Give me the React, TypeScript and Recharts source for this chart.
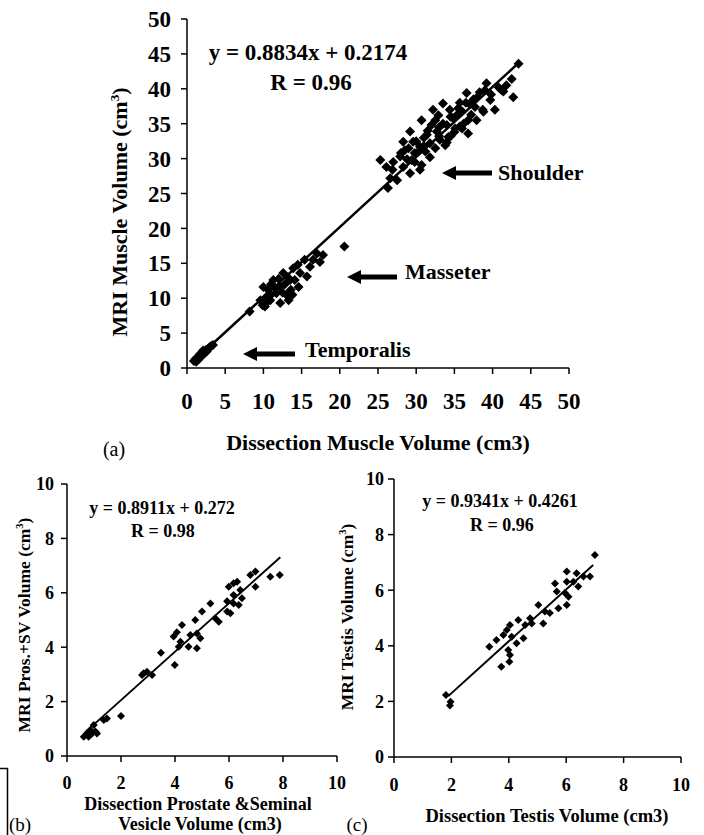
import React from "react";
import { ScatterChart, Scatter, XAxis, YAxis } from "recharts";

const SERIF = '"Liberation Serif", "Times New Roman", serif';

// (a) dissection vs MRI muscle volume (cm3), three muscle groups
const temporalis = [
  [0.9, 1.0], [1.1, 1.3], [1.2, 0.9], [1.4, 1.5], [1.5, 1.2], [1.6, 1.7], [1.7, 2.0], [1.8, 1.6],
  [1.9, 2.0], [2.0, 1.8], [2.1, 2.5], [2.2, 2.3], [2.3, 2.1], [2.5, 2.6], [2.6, 2.4], [2.8, 2.8],
  [3.0, 3.0], [3.2, 3.2], [3.4, 3.3],
];
const masseter = [
  [8.2, 8.1], [9.6, 9.7], [9.9, 9.0], [10.2, 8.8], [10.0, 11.6], [10.4, 10.2], [10.5, 9.5], [10.6, 11.2],
  [10.9, 9.7], [11.0, 10.5], [11.0, 12.0], [11.3, 12.6], [11.5, 11.5], [11.7, 10.7], [12.0, 12.8], [12.2, 11.6],
  [12.2, 9.3], [12.5, 10.8], [12.6, 13.6], [12.8, 12.0], [13.0, 10.5], [13.2, 13.0], [13.3, 9.7], [13.5, 12.6],
  [13.6, 11.2], [13.8, 10.5], [13.9, 14.3], [14.1, 12.6], [14.5, 14.8], [14.6, 11.6], [14.8, 13.6], [15.4, 15.5],
  [15.7, 13.1], [16.1, 14.5], [16.5, 15.5], [17.0, 16.4], [17.4, 15.2], [17.8, 16.2], [20.6, 17.4],
];
const shoulder = [
  [25.3, 29.8], [26.1, 28.8], [26.3, 25.8], [26.6, 27.2], [26.9, 28.4], [27.0, 29.5], [27.5, 26.9], [27.9, 30.3],
  [28.0, 30.8], [28.3, 32.4], [28.3, 28.8], [28.5, 31.2], [28.8, 29.9], [29.0, 31.5], [29.2, 33.9], [29.2, 27.9],
  [29.4, 29.8], [29.6, 32.4], [29.8, 30.8], [29.8, 29.5], [30.0, 32.5], [30.3, 31.0], [30.5, 31.7], [30.5, 28.4],
  [30.7, 35.5], [30.7, 29.1], [31.0, 33.0], [31.0, 31.8], [31.2, 31.0], [31.4, 33.4], [31.5, 34.0], [31.8, 32.2],
  [31.8, 30.2], [32.0, 34.8], [32.2, 37.0], [32.5, 31.5], [32.5, 35.5], [32.7, 33.9], [32.9, 36.2], [33.0, 34.5],
  [33.0, 33.2], [33.1, 32.7], [33.5, 37.9], [33.5, 35.0], [33.8, 31.9], [34.0, 34.8], [34.0, 32.3], [34.2, 33.1],
  [34.4, 37.0], [34.5, 33.2], [34.5, 36.0], [34.8, 35.8], [35.0, 33.8], [35.1, 34.3], [35.3, 36.2], [35.5, 37.2],
  [35.7, 38.0], [35.7, 34.6], [36.0, 36.8], [36.0, 34.3], [36.2, 35.0], [36.5, 38.0], [36.6, 39.4], [36.8, 35.5],
  [36.8, 33.6], [37.0, 37.8], [37.2, 36.3], [37.5, 38.5], [37.7, 37.4], [37.9, 35.5], [38.0, 38.8], [38.3, 39.5],
  [38.7, 37.0], [38.8, 36.7], [39.0, 39.8], [39.2, 40.8], [39.7, 38.4], [39.8, 39.2], [40.3, 37.0], [40.8, 40.2],
  [41.2, 39.8], [41.4, 39.6], [41.8, 40.5], [42.5, 41.4], [42.7, 38.8], [43.4, 43.6],
];
const muscleFit = [[0.9, 1.0], [43.3, 43.6]];
const muscleTicks = [0, 5, 10, 15, 20, 25, 30, 35, 40, 45, 50];

// (b) prostate + seminal vesicle
const prostate = [
  [0.62, 0.71], [0.74, 0.83], [0.8, 0.71], [0.86, 0.96], [0.93, 0.83], [0.99, 1.14], [1.05, 0.9], [1.11, 0.83],
  [1.36, 1.32], [1.48, 1.38], [2.0, 1.47], [2.78, 2.98], [2.84, 3.04], [2.96, 3.1], [3.15, 2.98], [3.48, 3.8],
  [3.95, 4.39], [3.99, 3.35], [4.07, 4.55], [4.14, 4.02], [4.2, 4.2], [4.26, 4.82], [4.5, 4.02], [4.57, 4.45],
  [4.75, 5.0], [4.81, 3.96], [4.81, 4.5], [4.94, 4.33], [5.0, 5.31], [5.31, 5.61], [5.49, 5.06], [5.62, 4.94],
  [5.93, 5.69], [5.93, 5.31], [5.99, 6.22], [6.05, 5.25], [6.17, 5.92], [6.17, 5.61], [6.17, 6.35], [6.3, 6.41],
  [6.36, 5.55], [6.42, 6.1], [6.48, 5.8], [6.79, 6.65], [6.98, 6.78], [6.98, 6.22], [7.53, 6.59], [7.88, 6.65],
];
const prostateFit = [[0.65, 0.85], [7.9, 7.31]];

// (c) testis
const testis = [
  [1.81, 2.23], [1.97, 1.99], [1.95, 1.85], [3.32, 3.97], [3.57, 4.21], [3.74, 3.25], [3.81, 4.39], [3.93, 4.57],
  [3.98, 3.85], [4.02, 3.43], [4.04, 3.67], [4.04, 4.75], [4.1, 4.33], [4.27, 4.09], [4.33, 4.93], [4.51, 4.27],
  [4.57, 4.75], [4.74, 4.99], [4.8, 4.8], [5.03, 5.47], [5.2, 4.8], [5.26, 5.23], [5.43, 5.18], [5.61, 6.24],
  [5.67, 5.95], [5.73, 5.35], [5.96, 5.9], [6.02, 6.67], [6.02, 6.3], [6.02, 5.47], [6.08, 5.76], [6.25, 6.3],
  [6.36, 6.61], [6.42, 6.13], [6.6, 6.49], [6.83, 6.49], [7.0, 7.27],
];
const testisFit = [[1.89, 2.19], [6.94, 6.91]];
const smallTicks = [0, 2, 4, 6, 8, 10];

const toPts = (a: number[][]) => a.map(([x, y]) => ({ x, y }));

const diamond = (r: number) => (p: any) => {
  const { cx, cy } = p;
  if (cx == null || cy == null) return <g />;
  return <path d={`M${cx},${cy - r}L${cx + r},${cy}L${cx},${cy + r}L${cx - r},${cy}Z`} fill="#000" />;
};

const axisStroke = { stroke: "#000", strokeWidth: 1.5 };

function Plot(props: any) {
  const { w, h, margin, yWidth, xHeight, max, ticks, font, xGap, yGap, points, fit, r, fitWidth } = props;
  const tick = { fill: "#000", fontSize: font, fontWeight: 700, fontFamily: SERIF };
  return (
    <ScatterChart width={w} height={h} margin={margin}>
      <XAxis type="number" dataKey="x" domain={[0, max]} ticks={ticks} interval={0} height={xHeight}
        tickSize={6} tickMargin={xGap} axisLine={axisStroke} tickLine={axisStroke} tick={tick} allowDataOverflow />
      <YAxis type="number" dataKey="y" domain={[0, max]} ticks={ticks} interval={0} width={yWidth}
        tickSize={6} tickMargin={yGap} axisLine={axisStroke} tickLine={axisStroke} tick={tick} allowDataOverflow />
      <Scatter data={points} shape={diamond(r)} isAnimationActive={false} />
      <Scatter data={fit} line={{ stroke: "#000", strokeWidth: fitWidth }} shape={() => <g />} isAnimationActive={false} />
    </ScatterChart>
  );
}

function T({ x, y, size, bold = true, rotate = false, left = false, children }: any) {
  const tf = left ? "translate(0,-50%)" : rotate ? "translate(-50%,-50%) rotate(-90deg)" : "translate(-50%,-50%)";
  return (
    <div style={{ position: "absolute", left: x, top: y, transform: tf, fontSize: size, fontWeight: bold ? 700 : 400,
      lineHeight: 1, whiteSpace: "nowrap" }}>
      {children}
    </div>
  );
}

const Sup = () => <sup style={{ fontSize: "0.6em", verticalAlign: "super", lineHeight: 0 }}>3</sup>;

function Arrow({ x1, x2, y }: { x1: number; x2: number; y: number }) {
  return (
    <g fill="#000">
      <polygon points={`${x1},${y} ${x1 + 14},${y - 7} ${x1 + 14},${y + 7}`} />
      <rect x={x1 + 12} y={y - 2.5} width={x2 - x1 - 12} height={5} />
    </g>
  );
}

export default function App() {
  return (
    <div style={{ position: "absolute", left: 0, top: 0, width: 704, height: 835, background: "#fff",
      fontFamily: SERIF, color: "#000", overflow: "hidden" }}>
      <div style={{ position: "absolute", left: 0, top: 0 }}>
        <Plot w={600} h={420} margin={{ top: 19, right: 31, bottom: 12, left: 127 }} yWidth={60} xHeight={40}
          max={50} ticks={muscleTicks} font={23} xGap={19} yGap={10} r={5} fitWidth={2.5}
          points={toPts([...temporalis, ...masseter, ...shoulder])} fit={toPts(muscleFit)} />
      </div>
      <div style={{ position: "absolute", left: 0, top: 470 }}>
        <Plot w={360} h={330} margin={{ top: 14, right: 23, bottom: 14, left: 27 }} yWidth={40} xHeight={30}
          max={10} ticks={smallTicks} font={18} xGap={14} yGap={7} r={4} fitWidth={2}
          points={toPts(prostate)} fit={toPts(prostateFit)} />
      </div>
      <div style={{ position: "absolute", left: 350, top: 465 }}>
        <Plot w={354} h={335} margin={{ top: 14, right: 23, bottom: 13, left: 4 }} yWidth={40} xHeight={30}
          max={10} ticks={smallTicks} font={18} xGap={15} yGap={4} r={4} fitWidth={2}
          points={toPts(testis)} fit={toPts(testisFit)} />
      </div>

      <svg width={704} height={835} style={{ position: "absolute", left: 0, top: 0 }}>
        <Arrow x1={442} x2={492} y={173} />
        <Arrow x1={347} x2={397} y={277} />
        <Arrow x1={243} x2={295} y={354} />
        <polyline points="0,768.5 7.5,768.5 7.5,835" fill="none" stroke="#000" strokeWidth={1.5} />
      </svg>

      {/* (a) */}
      <T x={308} y={52} size={23}>y = 0.8834x + 0.2174</T>
      <T x={311} y={82} size={23}>R = 0.96</T>
      <T x={498} y={173} size={22} left>Shoulder</T>
      <T x={405} y={272} size={22} left>Masseter</T>
      <T x={305} y={350} size={22} left>Temporalis</T>
      <T x={120} y={212} size={22} rotate>MRI Muscle Volume (cm<Sup />)</T>
      <T x={378} y={443} size={22}>Dissection Muscle Volume (cm3)</T>
      <T x={114} y={449} size={20} bold={false}>(a)</T>

      {/* (b) */}
      <T x={162} y={508} size={18}>y = 0.8911x + 0.272</T>
      <T x={163} y={531} size={18}>R = 0.98</T>
      <T x={25} y={625} size={17.5} rotate>MRI Pros.+SV Volume (cm<Sup />)</T>
      <T x={198} y={804} size={18}>Dissection Prostate &amp;Seminal</T>
      <T x={200} y={824} size={18}>Vesicle Volume (cm3)</T>
      <T x={9} y={824} size={19} bold={false} left>(b)</T>

      {/* (c) */}
      <T x={500} y={501} size={18}>y = 0.9341x + 0.4261</T>
      <T x={502} y={525} size={18}>R = 0.96</T>
      <T x={348} y={617} size={17.5} rotate>MRI Testis Volume (cm<Sup />)</T>
      <T x={547} y={816} size={18.5}>Dissection Testis Volume (cm3)</T>
      <T x={357} y={824} size={19} bold={false}>(c)</T>
    </div>
  );
}
